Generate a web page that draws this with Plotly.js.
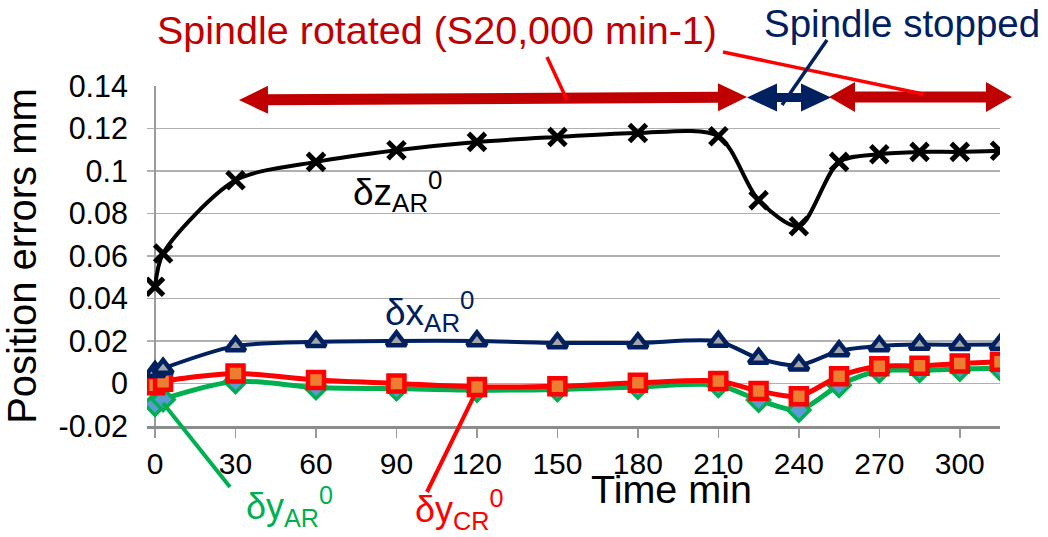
<!DOCTYPE html>
<html><head><meta charset="utf-8">
<script src="https://cdn.plot.ly/plotly-3.0.1.min.js"></script>
<style>html,body{margin:0;padding:0;background:#fff}#chart{width:1048px;height:537px}</style>
</head><body><div id="chart"></div>
<script>
// ---- data ----
const timeMin = [0, 3, 30, 60, 90, 120, 150, 180, 210, 225, 240, 255, 270, 285, 300, 315];
const dzAR = [0.0455, 0.0612, 0.0956, 0.1043, 0.1098, 0.1137, 0.1160, 0.1179, 0.1164, 0.0863, 0.0740, 0.1043, 0.1079, 0.1090, 0.1090, 0.1095];
const dxAR = [0.0055, 0.0071, 0.0176, 0.0196, 0.0200, 0.0200, 0.0191, 0.0191, 0.0198, 0.0118, 0.0086, 0.0153, 0.0176, 0.0183, 0.0182, 0.0183];
const dyCR = [-0.0008, 0.0008, 0.0047, 0.0016, 0.0000, -0.0016, -0.0013, 0.0003, 0.0012, -0.0035, -0.0060, 0.0034, 0.0081, 0.0083, 0.0094, 0.0102];
const dyAR = [-0.0097, -0.0075, 0.0010, -0.0019, -0.0024, -0.0031, -0.0028, -0.0016, -0.0008, -0.0078, -0.0125, -0.0008, 0.0060, 0.0062, 0.0068, 0.0072];
const xTickVals = [0, 30, 60, 90, 120, 150, 180, 210, 240, 270, 300];
const yTickVals = [-0.02, 0, 0.02, 0.04, 0.06, 0.08, 0.1, 0.12, 0.14];
const yTickText = ["-0.02", "0", "0.02", "0.04", "0.06", "0.08", "0.1", "0.12", "0.14"];

// ---- layout geometry ----
const W = 1048, H = 537, L = 147, R = 1000, T = 86, B = 426;
const px = x => (x - L) / (R - L);
const py = y => (B - y) / (B - T);
function arrowPath(x1, y1, x2, y2, t, hl, hh) {
  const dx = x2 - x1, dy = y2 - y1, len = Math.hypot(dx, dy);
  const ux = dx / len, uy = dy / len, nx = -uy, ny = ux;
  const P = (s, n) => [x1 + ux * s + nx * n, y1 + uy * s + ny * n];
  const pts = [P(0, 0), P(hl, hh), P(hl, t / 2), P(len - hl, t / 2), P(len - hl, hh), P(len, 0),
               P(len - hl, -hh), P(len - hl, -t / 2), P(hl, -t / 2), P(hl, -hh)];
  return 'M' + pts.map(p => px(p[0]).toFixed(5) + ',' + py(p[1]).toFixed(5)).join(' L') + ' Z';
}
function seg(x0, y0, x1, y1, color, w) {
  return {type: 'line', xref: 'paper', yref: 'paper', x0: px(x0), y0: py(y0), x1: px(x1), y1: py(y1),
          line: {color: color, width: w}, layer: 'above'};
}
function label(text, x, y, color, size) {
  return {text: text, xref: 'paper', yref: 'paper', x: px(x), y: py(y), xanchor: 'center', yanchor: 'middle',
          showarrow: false, font: {family: 'Liberation Sans, Arial, sans-serif', size: size, color: color}};
}

const RED = '#C00000', NAVY = '#002060', BRED = '#FF0000', GREEN = '#00B050';
const FONT = 'Liberation Sans, Arial, sans-serif';

const traces = [
  {x: timeMin, y: dyAR, mode: 'lines+markers', line: {color: GREEN, width: 5, shape: 'spline', smoothing: 0.8},
   marker: {symbol: 'diamond', size: 17, color: '#5B9BD5', line: {color: GREEN, width: 3.5}}},
  {x: timeMin, y: dyCR, mode: 'lines+markers', line: {color: BRED, width: 5, shape: 'spline', smoothing: 0.8},
   marker: {symbol: 'square', size: 16, color: '#ED7D31', line: {color: BRED, width: 4.5}}},
  {x: timeMin, y: dxAR, mode: 'lines+markers', line: {color: NAVY, width: 4, shape: 'spline', smoothing: 0.8},
   marker: {symbol: 'triangle-up', size: 17, color: '#A5A5A5', line: {color: NAVY, width: 4.5}}},
  {x: timeMin, y: dzAR, mode: 'lines+markers', line: {color: '#000000', width: 4, shape: 'spline', smoothing: 0.8},
   marker: {symbol: 'x-thin', size: 17, color: '#000000', line: {color: '#000000', width: 5}}}
];

const layout = {
  width: W, height: H, showlegend: false,
  paper_bgcolor: '#ffffff', plot_bgcolor: '#ffffff',
  margin: {l: L, r: W - R, t: T, b: H - B},
  font: {family: FONT, color: '#000000'},
  xaxis: {range: [-3, 315], tickvals: xTickVals, ticktext: xTickVals.map(String),
          showgrid: false, zeroline: true, zerolinecolor: '#9A9A9A', zerolinewidth: 1.5,
          showline: true, linecolor: '#8C8C8C', linewidth: 2.5,
          ticks: 'outside', ticklen: 9, tickcolor: '#9A9A9A', tickwidth: 1.5,
          tickfont: {size: 30, family: FONT, color: '#000'}},
  yaxis: {range: [-0.02, 0.14], tickvals: yTickVals, ticktext: yTickText,
          showgrid: true, gridcolor: '#B0B0B0', gridwidth: 1.5, zeroline: false, showline: false,
          ticks: '', tickfont: {size: 30.5, family: FONT, color: '#000'}, ticklabelstandoff: 18,
          title: {text: 'Position errors mm', font: {size: 40, family: FONT, color: '#000'}, standoff: 10}},
  shapes: [
    {type: 'path', xref: 'paper', yref: 'paper', path: arrowPath(239, 100, 747, 97, 11, 29, 14), fillcolor: RED, line: {width: 0}, layer: 'above'},
    {type: 'path', xref: 'paper', yref: 'paper', path: arrowPath(747, 97.5, 831, 97.5, 9, 30, 14), fillcolor: NAVY, line: {width: 0}, layer: 'above'},
    {type: 'path', xref: 'paper', yref: 'paper', path: arrowPath(829, 97, 1012, 97, 11, 26, 15), fillcolor: RED, line: {width: 0}, layer: 'above'},
    seg(547, 57, 567, 100, BRED, 3.5),
    seg(723, 52, 923, 94, BRED, 3.5),
    seg(827, 40, 782, 105, NAVY, 3.5),
    seg(163, 403, 230, 487, GREEN, 4),
    seg(474, 396, 427, 492, BRED, 4)
  ],
  annotations: [
    label('Spindle rotated (S20,000 min-1)', 437, 30, RED, 39.5),
    label('Spindle stopped', 902, 24, NAVY, 38.5),
    label('δz<sub>AR</sub><sup>0</sup>', 397, 191, '#000000', 37),
    label('δx<sub>AR</sub><sup>0</sup>', 429, 311, NAVY, 37),
    label('δy<sub>AR</sub><sup>0</sup>', 289, 506, GREEN, 36),
    label('δy<sub>CR</sub><sup>0</sup>', 459, 509, BRED, 36),
    label('Time min', 671, 489, '#000000', 39.5)
  ]
};

Plotly.newPlot('chart', traces, layout, {displayModeBar: false, staticPlot: true});
</script>
</body></html>
